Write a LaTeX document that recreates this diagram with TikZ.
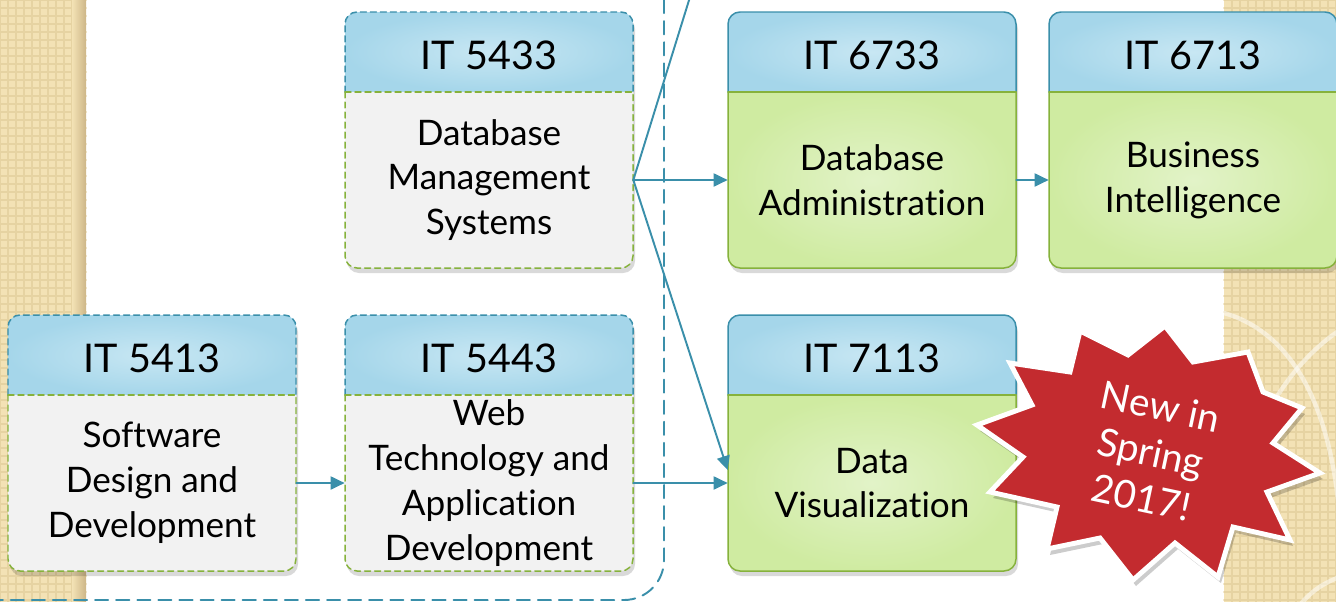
\documentclass[tikz,border=0pt]{standalone}
\usepackage{fontspec}
\setmainfont{Lato}[Ligatures=NoCommon]
\usetikzlibrary{arrows.meta}
\definecolor{sand}{HTML}{F3E2B5}
\definecolor{sandgrid}{HTML}{E6D3A2}
\definecolor{sanddark}{HTML}{CDB687}
\definecolor{tealline}{HTML}{3A8FAA}
\definecolor{headin}{HTML}{C8E7F3}
\definecolor{headout}{HTML}{A5D6EA}
\definecolor{greenline}{HTML}{86B23C}
\definecolor{greyfill}{HTML}{F2F2F2}
\definecolor{greenin}{HTML}{E2F3C8}
\definecolor{greenout}{HTML}{CFEBA1}
\definecolor{starred}{HTML}{C32B2F}
\begin{document}
\begin{tikzpicture}[x=0.02cm,y=-0.02cm,line join=round,line cap=round,
	>={Triangle[length=0.28cm,width=0.26cm]},
	headtext/.style={font=\fontsize{22.5}{27}\selectfont},
	bodytext/.style={font=\fontsize{20}{25.5}\selectfont,align=center,minimum width=5.76cm,minimum height=3.52cm,inner sep=0pt},
	headfill/.style={inner color=headin,outer color=headout,rounded corners=0.24cm},
	oldhead/.style={draw=tealline,line width=0.85pt,dash pattern=on 3.4pt off 2.3pt,rounded corners=0.24cm},
	newhead/.style={draw=tealline,line width=0.85pt,rounded corners=0.24cm},
	oldbodyfill/.style={fill=greyfill,rounded corners=0.24cm},
	newbodyfill/.style={shade,inner color=greenin,outer color=greenout,rounded corners=0.24cm},
	oldbody/.style={draw=greenline,line width=0.85pt,dash pattern=on 3.4pt off 2.3pt,rounded corners=0.24cm},
	newbody/.style={draw=greenline,line width=0.85pt,rounded corners=0.24cm},
	boxshadow/.style={fill=black,opacity=0.15,rounded corners=0.24cm},
	group/.style={draw=tealline,line width=1.1pt,dash pattern=on 7.5pt off 4.5pt,rounded corners=0.8cm},
	link/.style={draw=tealline,line width=1.1pt},
	swirl/.style={draw=white,opacity=0.5,line width=2.5pt},
	burst/.style={fill=starred,draw=white,line width=2.8pt,line join=miter},
	newtext/.style={text=white,align=center,font=\fontsize{22}{26.5}\selectfont}]
	\useasboundingbox (0,0) rectangle (1336,602);
	\clip (0,0) rectangle (1336,602);
	% background strips
	\fill[sand] (0,0) rectangle (86,602);
	\draw[sandgrid,line width=0.9pt,step=0.16cm] (0,0) grid (86,602);
	\shade[left color=sand,right color=sanddark] (72,0) rectangle (86,602);
	\fill[sand] (1224,0) rectangle (1336,602);
	\draw[sandgrid,line width=0.9pt,step=0.16cm] (1224,0) grid (1336,602);
	\draw[swirl] (1224,313) .. controls (1300,335) and (1332,420) .. (1340,520);
	\draw[swirl] (1340,330) .. controls (1310,350) and (1285,380) .. (1268,412);
	\draw[swirl] (1300,605) .. controls (1310,592) and (1325,582) .. (1340,577);
	% group of the old courses
	\draw[group] (-40,-60) rectangle (664,600);
	% one course box: name, left, top, number, title, old/new
	\def\course#1#2#3#4#5#6{%
		\fill[boxshadow] (#2+2,#3+5) rectangle (#2+290,#3+261);
		\shade[headfill] (#2,#3+80) -- (#2,#3) -- (#2+288,#3) -- (#2+288,#3+80);
		\draw[#6head] (#2,#3+80) -- (#2,#3) -- (#2+288,#3) -- (#2+288,#3+80);
		\path[#6bodyfill] (#2,#3+80) -- (#2,#3+256) -- (#2+288,#3+256) -- (#2+288,#3+80);
		\draw[#6body] (#2,#3+80) -- (#2,#3+256) -- (#2+288,#3+256) -- (#2+288,#3+80);
		\draw[#6body] (#2,#3+80) -- (#2+288,#3+80);
		\node[headtext] (h#1) at (#2+144,#3+43) {#4};
		\node[bodytext] (#1) at (#2+144,#3+168) {#5};
	}
	\course{c5433}{345}{12}{IT 5433}{Database\\Management\\Systems}{old}
	\course{c5413}{8}{315}{IT 5413}{Software\\Design and\\Development}{old}
	\course{c5443}{345}{315}{IT 5443}{Web\\Technology and\\Application\\Development}{old}
	\course{c6733}{728}{12}{IT 6733}{Database\\Administration}{new}
	\course{c6713}{1049}{12}{IT 6713}{Business\\Intelligence}{new}
	\course{c7113}{728}{315}{IT 7113}{Data\\Visualization}{new}
	% links
	\coordinate (up) at (690,-3);
	\draw[link] (c5433.east) -- (up);
	\draw[link,->] (c5433) -- (c6733);
	\draw[link,->] (c6733) -- (c6713);
	\draw[link,->] (c5433.east) -- ([yshift=0.26cm]c7113.west);
	\draw[link,->] (c5413) -- (c5443);
	\draw[link,->] (c5443) -- (c7113);
	% the star
	\def\burstpath{(1165,326) -- (1193,362) -- (1248,352) -- (1263,392) -- (1302,408) -- (1273,443) -- (1320,473) -- (1267,492) -- (1290,540) -- (1233,527) -- (1218,577) -- (1175,543) -- (1133,580) -- (1100,538) -- (1047,549) -- (1057,507) -- (990,492) -- (1023,457) -- (977,425) -- (1032,405) -- (1010,363) -- (1070,372) -- (1080,331) -- (1128,355) -- cycle}
	\fill[black,opacity=0.2,shift={(3,6)}] \burstpath;
	\draw[burst] \burstpath;
	\node[newtext,rotate=-12] (news) at (1151,452) {New in\\Spring\\2017!};
\end{tikzpicture}
\end{document}
